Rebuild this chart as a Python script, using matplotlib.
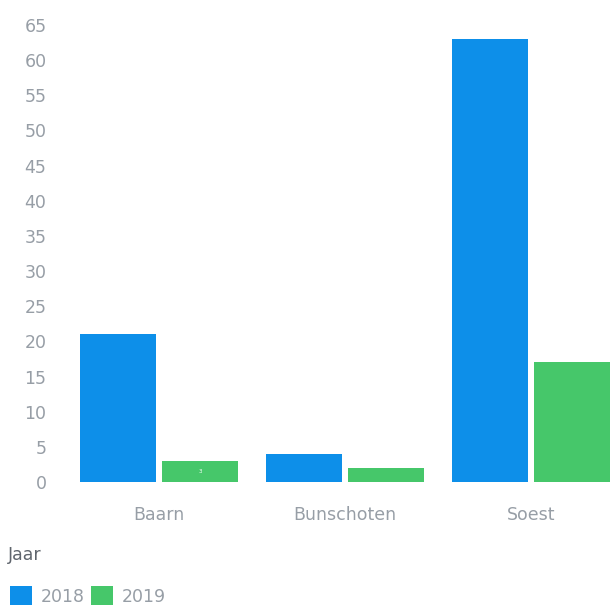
import matplotlib.pyplot as plt
import numpy as np

gemeenten = ['Baarn', 'Bunschoten', 'Soest']
jaren = ['2018', '2019']
waarden_2018 = [21, 4, 63]
waarden_2019 = [3, 2, 17]
y_ticks = list(range(0, 70, 5))

blauw = '#0d8fe9'
groen = '#46c76a'
grijs = '#979ea6'

fig = plt.figure(figsize=(6.1, 6.07), dpi=100)
ax = fig.add_axes([66 / 610, 125 / 607, 544 / 610, 457 / 607])

x = np.arange(len(gemeenten))
breedte = 0.41
b1 = ax.bar(x - 0.22, waarden_2018, breedte, color=blauw, label=jaren[0])
b2 = ax.bar(x + 0.22, waarden_2019, breedte, color=groen, label=jaren[1])

# klein labeltje in de Baarn-balk van 2019
ax.text(x[0] + 0.22, waarden_2019[0] / 2, str(waarden_2019[0]), color='white',
        fontsize=4, ha='center', va='center')

ax.set_xlim(-0.5, 2.425)
ax.set_ylim(0, 65)
ax.set_yticks(y_ticks)
ax.set_xticks(x)
ax.set_xticklabels(gemeenten)
ax.tick_params(axis='y', length=0, pad=14, labelsize=12.5, labelcolor=grijs)
ax.tick_params(axis='x', length=0, pad=17, labelsize=12.5, labelcolor=grijs)
for s in ax.spines.values():
    s.set_visible(False)

fig.text(8 / 610, 1 - 555 / 607, 'Jaar', fontsize=12.5, color='#5f656d',
         ha='left', va='center')
leg = fig.legend(handles=[b1, b2], labels=jaren, ncol=2,
                 loc='center left', bbox_to_anchor=(3 / 610, 1 - 596 / 607),
                 borderaxespad=0, frameon=False, fontsize=12.5,
                 handlelength=1.25, handleheight=1.25, handletextpad=0.5,
                 columnspacing=0.4, labelcolor=grijs)

plt.savefig('out.png', dpi=100)
